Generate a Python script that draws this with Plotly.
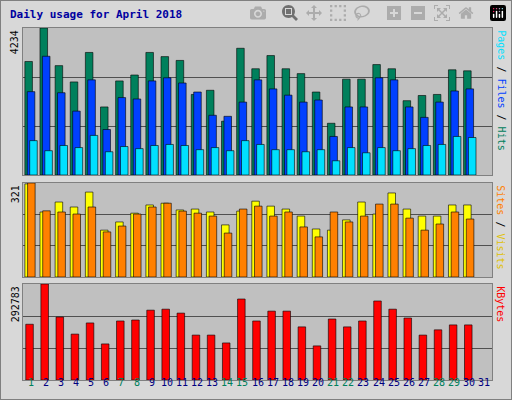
import plotly.graph_objects as go

days = list(range(1, 32))
hits = [3270,4234,3150,2680,3530,1960,2710,2880,3530,3410,3300,2320,2440,1550,3650,3060,3440,3060,2920,2390,1490,2760,2760,3180,3060,2140,2290,2320,3030,3000,None]
files = [2400,3420,2370,1840,2740,1310,2230,2190,2710,2800,2650,2390,1720,1690,2100,2740,2480,2300,2100,2160,1110,1960,1960,2800,2740,1960,1660,2100,2420,2480,None]
pages = [990,700,850,790,1140,670,820,760,850,880,850,730,790,700,990,880,730,730,670,730,410,790,640,790,700,760,850,880,1110,1080,None]
visits = [318,222,256,239,290,160,188,218,246,252,229,232,222,178,225,259,242,232,208,164,160,195,256,215,287,232,208,208,246,246,None]
sites = [321,226,222,215,239,154,174,215,239,252,225,218,208,150,232,242,208,222,171,137,222,188,208,249,249,201,160,181,222,198,None]
kbytes = [170000,292783,192000,140000,174000,110000,180000,183000,213000,216000,204000,137000,137000,113000,247000,180000,210000,210000,162000,104000,186000,162000,180000,241000,216000,189000,137000,153000,168000,168000,None]
max_hits, max_visits, max_kb = 4234, 321, 292783
weekend = {1, 7, 8, 14, 15, 21, 22, 28, 29}

fig = go.Figure()
def bar(y, col, off, ax):
    fig.add_trace(go.Bar(x=days, y=y, offset=off, width=0.5, marker=dict(color=col, line=dict(color='#000000', width=0.6)),
                         xaxis='x' + ax, yaxis='y' + ax, showlegend=False))
bar(hits, '#00805C', -0.38, '')
bar(files, '#0040FF', -0.22, '')
bar(pages, '#00E0FF', -0.06, '')
bar(visits, '#FFFF00', -0.38, '2')
bar(sites, '#FF8000', -0.2, '2')
bar(kbytes, '#FF0000', -0.32, '3')

xcommon = dict(range=[0.5, 31.5], domain=[0.045, 0.961], showgrid=False, zeroline=False, showline=True,
               linecolor='#808080', mirror=True, ticks='', showticklabels=False)
ycommon = dict(showticklabels=False, gridcolor='#505050', gridwidth=1, zeroline=False, showline=True,
               linecolor='#808080', mirror=True, ticks='')
fig.update_layout(
    width=512, height=400, margin=dict(l=0, r=0, t=0, b=0),
    paper_bgcolor='#D8D8D8', plot_bgcolor='#C0C0C0', barmode='overlay',
    font=dict(family='DejaVu Sans Mono', size=11),
    xaxis=dict(**xcommon, anchor='y'),
    xaxis2=dict(**xcommon, anchor='y2'),
    xaxis3=dict(**xcommon, anchor='y3'),
    yaxis=dict(**ycommon, domain=[0.5625, 0.93], range=[0, max_hits], tickvals=[max_hits/3, 2*max_hits/3]),
    yaxis2=dict(**ycommon, domain=[0.3075, 0.5425], range=[0, max_visits], tickvals=[max_visits/3, 2*max_visits/3]),
    yaxis3=dict(**ycommon, domain=[0.05, 0.29], range=[0, max_kb], tickvals=[max_kb/3, 2*max_kb/3]),
    shapes=[dict(type='rect', xref='paper', yref='paper', x0=0, y0=0, x1=1, y1=1, line=dict(color='#808080', width=2))],
)
ann = [
    dict(x=0.015, y=0.985, text='<b>Daily usage for April 2018</b>', font=dict(color='#0000A0', size=11), xanchor='left', yanchor='top'),
    dict(x=0.03, y=0.93, text=str(max_hits), textangle=-90, xanchor='center', yanchor='top'),
    dict(x=0.03, y=0.5425, text=str(max_visits), textangle=-90, xanchor='center', yanchor='top'),
    dict(x=0.03, y=0.29, text=str(max_kb), textangle=-90, xanchor='center', yanchor='top'),
    dict(x=0.978, y=0.93, text="<span style='color:#00E0FF'>Pages</span> / <span style='color:#0040FF'>Files</span> / <span style='color:#00805C'>Hits</span>", textangle=90, xanchor='center', yanchor='top'),
    dict(x=0.978, y=0.5425, text="<span style='color:#FF8000'>Sites</span> / <span style='color:#E0C000'>Visits</span>", textangle=90, xanchor='center', yanchor='top'),
    dict(x=0.978, y=0.29, text="<span style='color:#FF0000'>KBytes</span>", textangle=90, xanchor='center', yanchor='top'),
]
annotations = [dict(a, xref='paper', yref='paper', showarrow=False, font=a.get('font', dict(color='#000000', size=10))) for a in ann]
for d in days:
    annotations.append(dict(x=d, xref='x3', y=0.025, yref='paper', text=str(d), showarrow=False,
                            font=dict(size=10, color='#00805C' if d in weekend else '#000080')))
fig.update_layout(annotations=annotations)
fig.write_html("out.html", post_script="document.body.style.margin='0';document.body.style.overflow='hidden';")
